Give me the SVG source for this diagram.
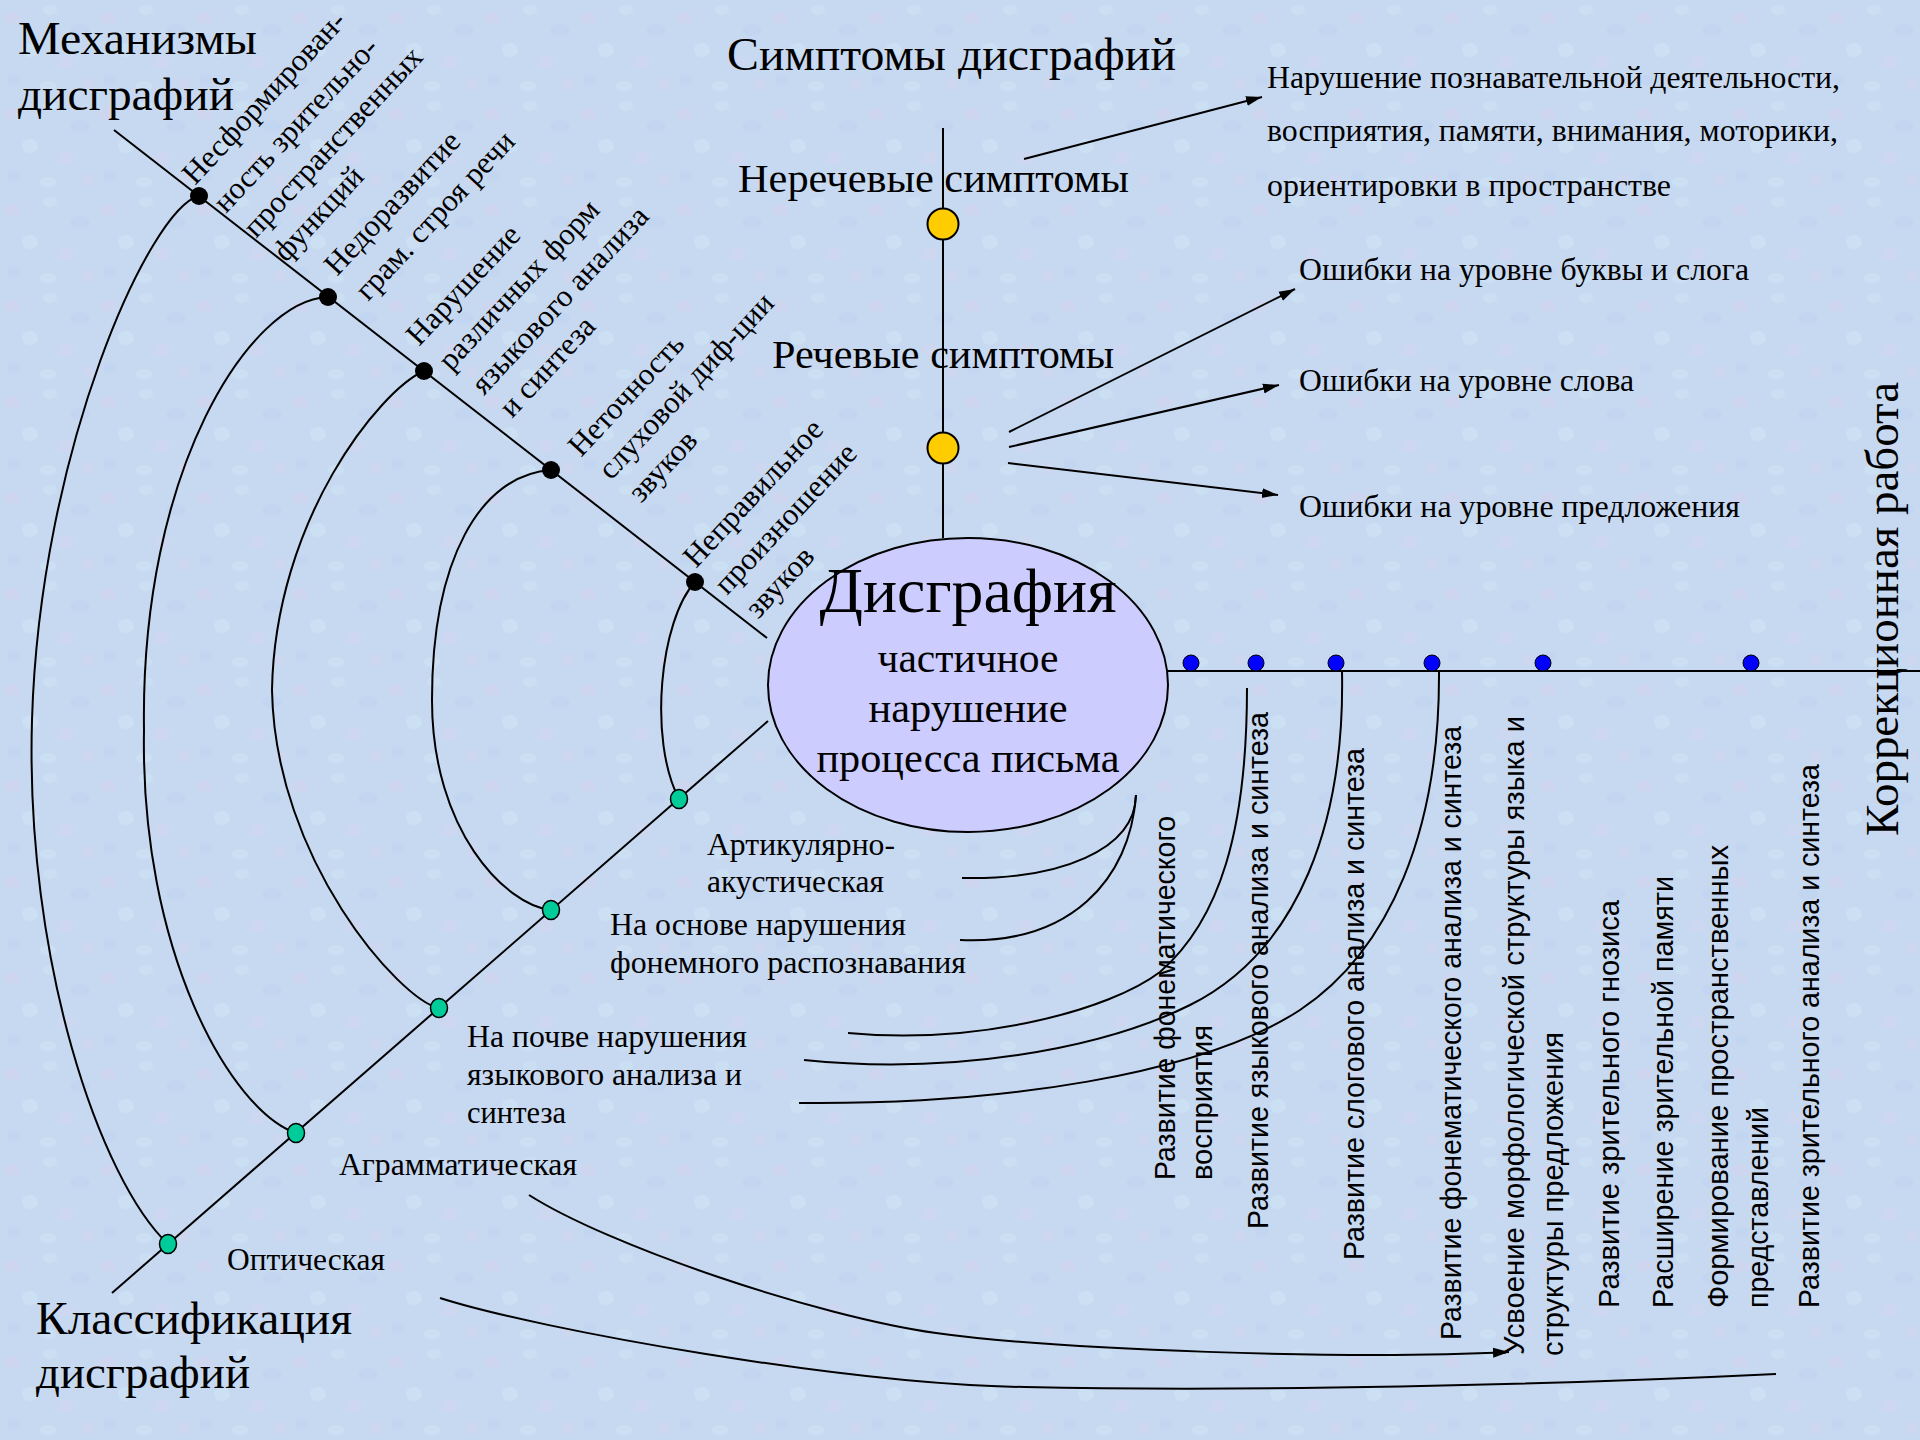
<svg xmlns="http://www.w3.org/2000/svg" width="1920" height="1440" viewBox="0 0 1920 1440">
<defs>
<style>
.t{font-family:"Liberation Serif","Times New Roman",serif;fill:#000}
.v{font-family:"Liberation Sans",Arial,sans-serif;fill:#000;font-size:29px}
.ln{stroke:#000;stroke-width:2;fill:none}
.f31{font-size:31px}
.bd{fill:#000}
.gd{fill:#00cc99;stroke:#000;stroke-width:1.5}
.yd{fill:#ffcc00;stroke:#000;stroke-width:2}
.bl{fill:#0000ff;stroke:#000;stroke-width:1}
</style>
<marker id="ah" viewBox="0 0 16 12" refX="16" refY="6" markerWidth="16" markerHeight="12" markerUnits="userSpaceOnUse" orient="auto">
<path d="M0,1 L16,6 L0,11 Z" fill="#000"/>
</marker>
<pattern id="tex" width="96" height="96" patternUnits="userSpaceOnUse">
<rect width="96" height="96" fill="#c7d9f1"/>
<ellipse cx="12" cy="18" rx="9" ry="6" fill="#e6cdea" opacity="0.22"/>
<ellipse cx="50" cy="10" rx="7" ry="5" fill="#d6f1f8" opacity="0.3"/>
<ellipse cx="80" cy="30" rx="10" ry="6" fill="#b3c6ee" opacity="0.25"/>
<ellipse cx="30" cy="50" rx="8" ry="7" fill="#d6f1f8" opacity="0.28"/>
<ellipse cx="66" cy="62" rx="9" ry="6" fill="#e6cdea" opacity="0.2"/>
<ellipse cx="14" cy="80" rx="7" ry="5" fill="#b3c6ee" opacity="0.25"/>
<ellipse cx="48" cy="86" rx="8" ry="5" fill="#d6f1f8" opacity="0.28"/>
<ellipse cx="88" cy="84" rx="6" ry="6" fill="#e6cdea" opacity="0.2"/>
</pattern>
</defs>
<rect width="1920" height="1440" fill="url(#tex)"/>

<g id="connectors">
<line class="ln" x1="114" y1="130" x2="767" y2="638"/>
<line class="ln" x1="112" y1="1293" x2="768" y2="721"/>
<line class="ln" x1="943" y1="128" x2="943" y2="538"/>
<line class="ln" x1="1168" y1="671" x2="1920" y2="671"/>
<path class="ln" d="M199,196 C150,208 40,450 32,720 C25,960 100,1180 168,1244"/>
<path class="ln" d="M328,297 C250,300 140,470 144,730 C140,950 230,1110 296,1133"/>
<path class="ln" d="M424,371 C380,390 275,520 272,690 C275,860 400,1000 439,1008"/>
<path class="ln" d="M551,470 C480,475 432,560 432,700 C432,830 505,905 551,910"/>
<path class="ln" d="M695,582 C660,620 648,740 679,799"/>
<line class="ln" x1="1024" y1="159" x2="1262" y2="97" marker-end="url(#ah)"/>
<line class="ln" x1="1009" y1="432" x2="1295" y2="289" marker-end="url(#ah)"/>
<line class="ln" x1="1009" y1="447" x2="1279" y2="385" marker-end="url(#ah)"/>
<line class="ln" x1="1008" y1="463" x2="1278" y2="495" marker-end="url(#ah)"/>
<path class="ln" d="M1136,795 C1135,850 1060,880 962,878"/>
<path class="ln" d="M1136,795 C1130,880 1070,945 960,940"/>
<path class="ln" d="M1247,688 C1247,830 1220,920 1160,972 C1110,1010 980,1045 848,1033"/>
<path class="ln" d="M1342,671 C1345,820 1300,950 1190,1005 C1100,1050 950,1075 804,1060"/>
<path class="ln" d="M1439,671 C1440,830 1390,950 1300,1010 C1200,1075 1000,1105 799,1103"/>
<path class="ln" d="M529,1195 C609,1246 816,1316 936,1333 C1056,1350 1350,1360 1509,1352" marker-end="url(#ah)"/>
<path class="ln" d="M440,1298 C540,1330 850,1385 1025,1387 C1250,1392 1550,1385 1776,1374"/>
</g>

<g id="title-mechanisms">
<text class="t" x="18" y="54" font-size="46" textLength="239" lengthAdjust="spacingAndGlyphs">Механизмы</text>
<text class="t" x="18" y="110" font-size="46" textLength="216" lengthAdjust="spacingAndGlyphs">дисграфий</text>
</g>
<g id="title-classification">
<text class="t" x="36" y="1334" font-size="46" textLength="316" lengthAdjust="spacingAndGlyphs">Классификация</text>
<text class="t" x="36" y="1388" font-size="46" textLength="214" lengthAdjust="spacingAndGlyphs">дисграфий</text>
</g>
<g id="title-symptoms">
<text class="t" x="727" y="70" font-size="47" textLength="449" lengthAdjust="spacingAndGlyphs">Симптомы дисграфий</text>
</g>

<g id="node-dysgraphia">
<ellipse cx="968" cy="685" rx="200" ry="147" fill="#ccccff" stroke="#000" stroke-width="2"/>
<text class="t" x="968" y="612" font-size="64" text-anchor="middle" textLength="297" lengthAdjust="spacingAndGlyphs">Дисграфия</text>
<text class="t" x="968" y="672" font-size="42" text-anchor="middle" textLength="181" lengthAdjust="spacingAndGlyphs">частичное</text>
<text class="t" x="968" y="722" font-size="42" text-anchor="middle" textLength="199" lengthAdjust="spacingAndGlyphs">нарушение</text>
<text class="t" x="968" y="772" font-size="42" text-anchor="middle" textLength="303" lengthAdjust="spacingAndGlyphs">процесса письма</text>
</g>

<g id="node-nonspeech">
<circle class="yd" cx="943" cy="224" r="15.5"/>
<text class="t" x="738" y="192" font-size="41" textLength="391" lengthAdjust="spacingAndGlyphs">Неречевые симптомы</text>
</g>
<g id="node-speech">
<circle class="yd" cx="943" cy="448" r="15.5"/>
<text class="t" x="772" y="368" font-size="41" textLength="342" lengthAdjust="spacingAndGlyphs">Речевые симптомы</text>
</g>
<g id="node-nonspeech-desc">
<text class="t f31" x="1267" y="88" textLength="573" lengthAdjust="spacingAndGlyphs">Нарушение познавательной деятельности,</text>
<text class="t f31" x="1267" y="141" textLength="571" lengthAdjust="spacingAndGlyphs">восприятия, памяти, внимания, моторики,</text>
<text class="t f31" x="1267" y="196" textLength="404" lengthAdjust="spacingAndGlyphs">ориентировки в пространстве</text>
</g>
<g id="node-err-letter"><text class="t f31" x="1299" y="280" textLength="450" lengthAdjust="spacingAndGlyphs">Ошибки на уровне буквы и слога</text></g>
<g id="node-err-word"><text class="t f31" x="1299" y="391" textLength="335" lengthAdjust="spacingAndGlyphs">Ошибки на уровне слова</text></g>
<g id="node-err-sentence"><text class="t f31" x="1299" y="517" textLength="441" lengthAdjust="spacingAndGlyphs">Ошибки на уровне предложения</text></g>

<g id="mech-1">
<circle class="bd" cx="199" cy="196" r="9"/>
<text class="t f31" transform="translate(195,186) rotate(-47)">Несформирован-</text>
<text class="t f31" transform="translate(226,214) rotate(-47)">ность зрительно-</text>
<text class="t f31" transform="translate(256,239) rotate(-47)">пространственных</text>
<text class="t f31" transform="translate(286,263) rotate(-47)">функций</text>
</g>
<g id="mech-2">
<circle class="bd" cx="328" cy="297" r="9"/>
<text class="t f31" transform="translate(337,277) rotate(-47)">Недоразвитие</text>
<text class="t f31" transform="translate(368,302) rotate(-47)">грам. строя речи</text>
</g>
<g id="mech-3">
<circle class="bd" cx="424" cy="371" r="9"/>
<text class="t f31" transform="translate(419,347) rotate(-47)">Нарушение</text>
<text class="t f31" transform="translate(451,372) rotate(-47)">различных форм</text>
<text class="t f31" transform="translate(484,396) rotate(-47)">языкового анализа</text>
<text class="t f31" transform="translate(512,419) rotate(-47)">и синтеза</text>
</g>
<g id="mech-4">
<circle class="bd" cx="551" cy="470" r="9"/>
<text class="t f31" transform="translate(581,458) rotate(-47)">Неточность</text>
<text class="t f31" transform="translate(611,481) rotate(-47)">слуховой диф-ции</text>
<text class="t f31" transform="translate(641,504) rotate(-47)">звуков</text>
</g>
<g id="mech-5">
<circle class="bd" cx="695" cy="582" r="9"/>
<text class="t f31" transform="translate(696,569) rotate(-47)">Неправильное</text>
<text class="t f31" transform="translate(727,596) rotate(-47)">произношение</text>
<text class="t f31" transform="translate(758,620) rotate(-47)">звуков</text>
</g>

<g id="class-1">
<ellipse class="gd" cx="679" cy="799" rx="8.5" ry="9.5"/>
<text class="t f31" x="707" y="855" textLength="188" lengthAdjust="spacingAndGlyphs">Артикулярно-</text>
<text class="t f31" x="707" y="892" textLength="177" lengthAdjust="spacingAndGlyphs">акустическая</text>
</g>
<g id="class-2">
<ellipse class="gd" cx="551" cy="910" rx="8.5" ry="9.5"/>
<text class="t f31" x="610" y="935" textLength="296" lengthAdjust="spacingAndGlyphs">На основе нарушения</text>
<text class="t f31" x="610" y="973" textLength="356" lengthAdjust="spacingAndGlyphs">фонемного распознавания</text>
</g>
<g id="class-3">
<ellipse class="gd" cx="439" cy="1008" rx="8.5" ry="9.5"/>
<text class="t f31" x="467" y="1047" textLength="280" lengthAdjust="spacingAndGlyphs">На почве нарушения</text>
<text class="t f31" x="467" y="1085" textLength="275" lengthAdjust="spacingAndGlyphs">языкового анализа и</text>
<text class="t f31" x="467" y="1123" textLength="99" lengthAdjust="spacingAndGlyphs">синтеза</text>
</g>
<g id="class-4">
<ellipse class="gd" cx="296" cy="1133" rx="8.5" ry="9.5"/>
<text class="t f31" x="339" y="1175" textLength="238" lengthAdjust="spacingAndGlyphs">Аграмматическая</text>
</g>
<g id="class-5">
<ellipse class="gd" cx="168" cy="1244" rx="8.5" ry="9.5"/>
<text class="t f31" x="227" y="1270" textLength="158" lengthAdjust="spacingAndGlyphs">Оптическая</text>
</g>

<g id="corr-title">
<text class="t" font-size="46" transform="translate(1898,836) rotate(-90)" textLength="454" lengthAdjust="spacingAndGlyphs">Коррекционная работа</text>
</g>
<g id="corr-1">
<circle class="bl" cx="1191" cy="663" r="8"/>
<text class="v" transform="translate(1175,1180) rotate(-90)" textLength="364" lengthAdjust="spacingAndGlyphs">Развитие фонематического</text>
<text class="v" transform="translate(1212,1180) rotate(-90)" textLength="155" lengthAdjust="spacingAndGlyphs">восприятия</text>
</g>
<g id="corr-2">
<circle class="bl" cx="1256" cy="663" r="8"/>
<text class="v" transform="translate(1268,1229) rotate(-90)" textLength="517" lengthAdjust="spacingAndGlyphs">Развитие языкового анализа и синтеза</text>
</g>
<g id="corr-3">
<circle class="bl" cx="1336" cy="663" r="8"/>
<text class="v" transform="translate(1364,1260) rotate(-90)" textLength="512" lengthAdjust="spacingAndGlyphs">Развитие слогового анализа и синтеза</text>
</g>
<g id="corr-4">
<circle class="bl" cx="1432" cy="663" r="8"/>
<text class="v" transform="translate(1461,1340) rotate(-90)" textLength="614" lengthAdjust="spacingAndGlyphs">Развитие фонематического анализа и синтеза</text>
</g>
<g id="corr-5">
<circle class="bl" cx="1543" cy="663" r="8"/>
<text class="v" transform="translate(1524,1355) rotate(-90)" textLength="639" lengthAdjust="spacingAndGlyphs">Усвоение морфологической структуры языка и</text>
<text class="v" transform="translate(1563,1356) rotate(-90)" textLength="324" lengthAdjust="spacingAndGlyphs">структуры предложения</text>
</g>
<g id="corr-6">
<text class="v" transform="translate(1619,1308) rotate(-90)" textLength="408" lengthAdjust="spacingAndGlyphs">Развитие зрительного гнозиса</text>
</g>
<g id="corr-7">
<text class="v" transform="translate(1673,1308) rotate(-90)" textLength="432" lengthAdjust="spacingAndGlyphs">Расширение зрительной памяти</text>
</g>
<g id="corr-8">
<circle class="bl" cx="1751" cy="663" r="8"/>
<text class="v" transform="translate(1728,1308) rotate(-90)" textLength="463" lengthAdjust="spacingAndGlyphs">Формирование пространственных</text>
<text class="v" transform="translate(1768,1308) rotate(-90)" textLength="201" lengthAdjust="spacingAndGlyphs">представлений</text>
</g>
<g id="corr-9">
<text class="v" transform="translate(1819,1308) rotate(-90)" textLength="544" lengthAdjust="spacingAndGlyphs">Развитие зрительного анализа и синтеза</text>
</g>
</svg>
